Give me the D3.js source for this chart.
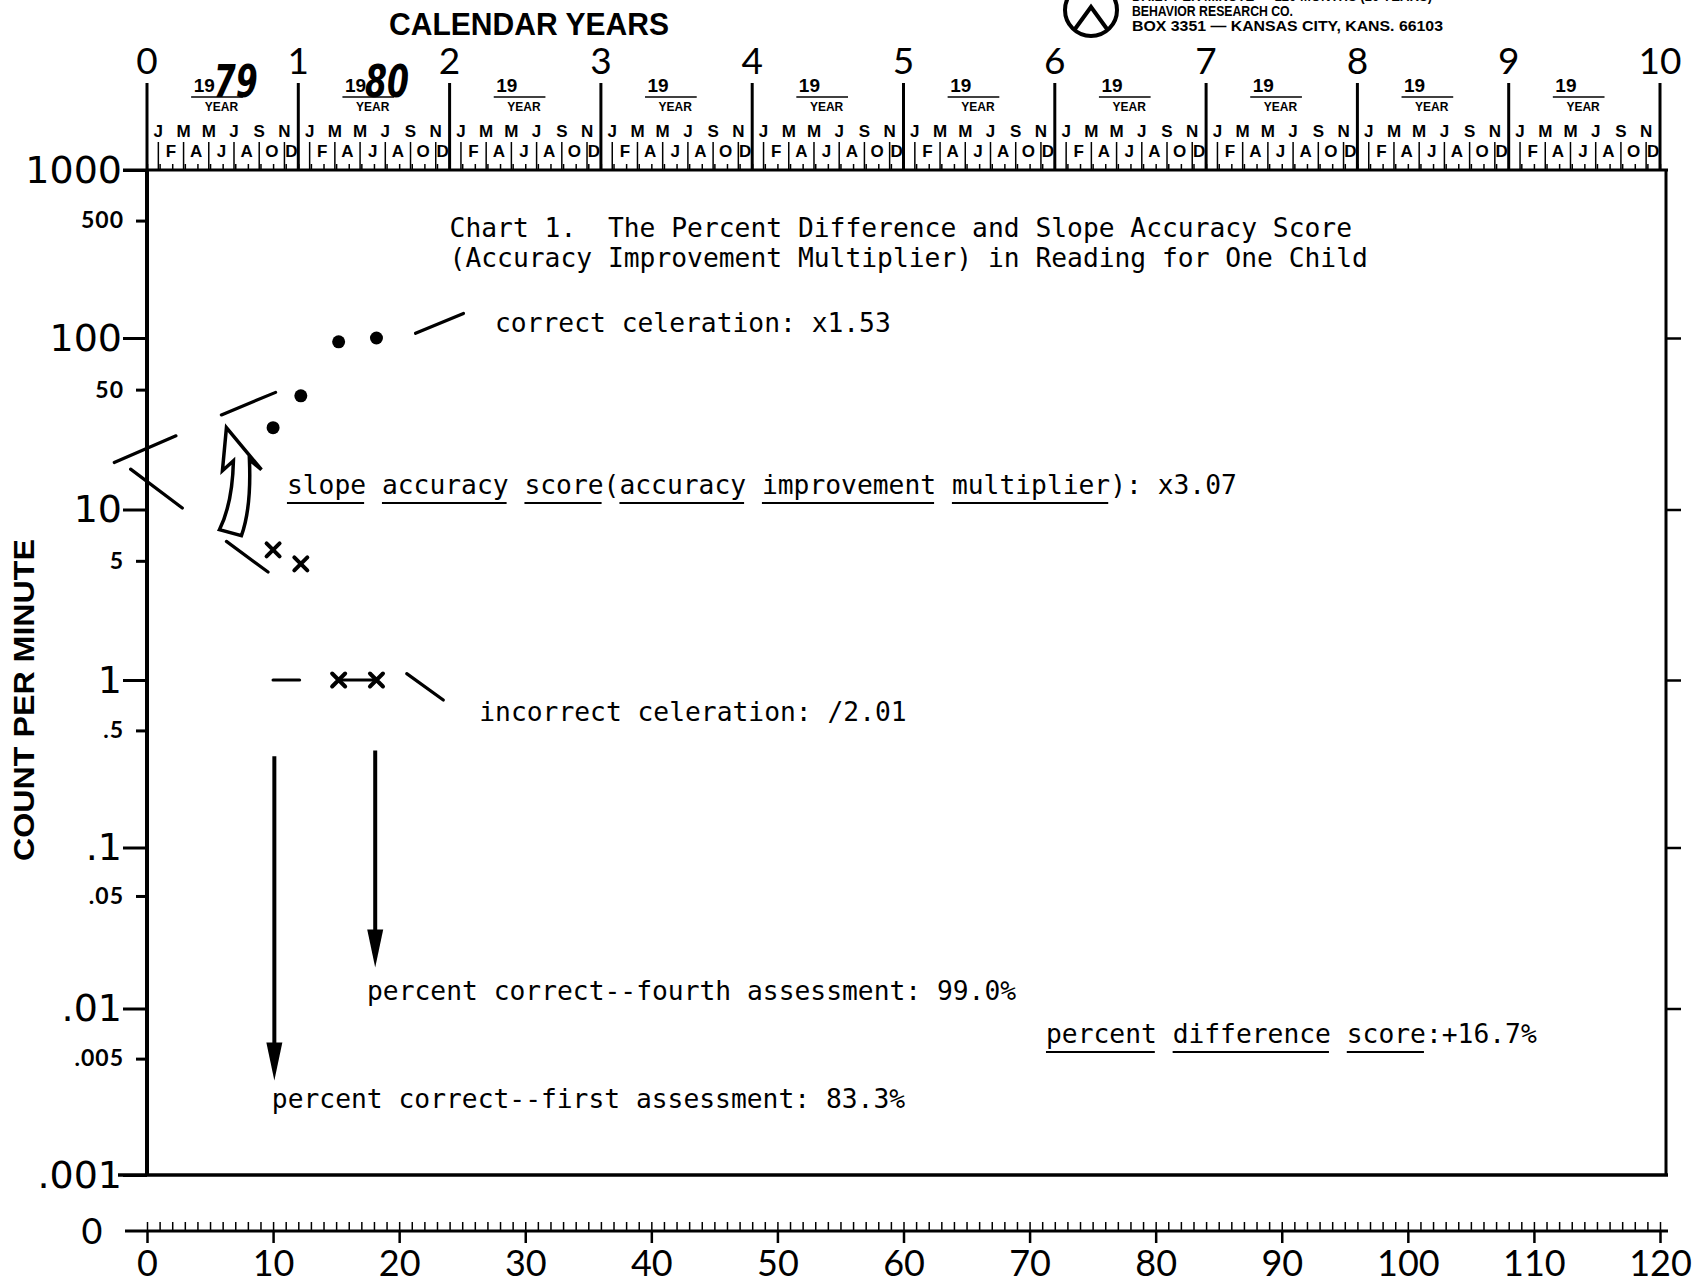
<!DOCTYPE html>
<html>
<head>
<meta charset="utf-8">
<script src="https://cdn.jsdelivr.net/npm/d3@7"></script>
<style>
  body { margin: 0; background: #fff; }
  svg { display: block; }
  .note { white-space: pre; }
</style>
</head>
<body>
<svg id="chart"></svg>
<script>
const WIDTH = 1704;
const HEIGHT = 1284;

// --- data ---
const sessionMonths = [10, 12.2, 15.2, 18.2];
const correctCounts = [30, 46, 95, 100];
const incorrectCounts = [5.8, 4.8, 1, 1];

// celeration lines (month, count) pairs
const correctCelerations = [
    [[5.9, 35.6], [10.2, 48.2]],
    [[21.3, 106.6], [25.1, 140]]
];
const incorrectCelerations = [
    [[6.3, 6.5], [9.6, 4.3]],
    [[10.0, 1], [12.1, 1]],
    [[15.2, 1], [18.1, 1]],
    [[20.6, 1.09], [23.5, 0.76]]
];
// the two celeration lines moved to the axis to show the angle between them
const angleLines = [
    [[-2.6, 18.8], [2.3, 26.9]],
    [[-1.3, 17.2], [2.8, 10.2]]
];
// down arrows from the assessments to the percent notes
const assessmentArrows = [
    [10.1, 0.35, 0.0037],
    [18.1, 0.38, 0.018]
];

const yearLabels = d3.range(0, 11);
const monthLetters = ['J', 'F', 'M', 'A', 'M', 'J', 'J', 'A', 'S', 'O', 'N', 'D'];
const handYears = ['79', '80'];
const countTicks = [1000, 100, 10, 1, 0.1, 0.01, 0.001];
const countLabels = ['1000', '100', '10', '1', '.1', '.01', '.001'];
const halfTicks = [500, 50, 5, 0.5, 0.05, 0.005];
const halfLabels = ['500', '50', '5', '.5', '.05', '.005'];
const monthTicks = d3.range(0, 121, 10);

const notes = [
    { text: 'Chart 1.  The Percent Difference and Slope Accuracy Score', m: 24, c: 400 },
    { text: '(Accuracy Improvement Multiplier) in Reading for One Child', m: 24, c: 400, dy: 30 },
    { text: 'correct celeration: x1.53', m: 27.6, c: 109 },
    { text: 'slope accuracy score(accuracy improvement multiplier): x3.07', m: 11.1, c: 12.3,
      under: ['slope', 'accuracy', 'score', 'accuracy', 'improvement', 'multiplier'] },
    { text: 'incorrect celeration: /2.01', m: 26.35, c: 0.573 },
    { text: 'percent correct--fourth assessment: 99.0%', m: 17.45, c: 0.0113 },
    { text: 'percent difference score:+16.7%', m: 71.3, c: 0.0062,
      under: ['percent', 'difference', 'score'] },
    { text: 'percent correct--first assessment: 83.3%', m: 9.9, c: 0.00252 }
];

const MONO = '"DejaVu Sans Mono", monospace';
const NARROW = '"Liberation Sans Narrow", "Liberation Sans", Arial, sans-serif';
const ROUND = '"DejaVu Sans", sans-serif';
const SMALLROUND = 'Lato, "Noto Sans", sans-serif';

const svg = d3.select('#chart').attr('width', WIDTH).attr('height', HEIGHT);

const x = d3.scaleLinear().domain([0, 120]).range([147, 1660]);
// piecewise log scale so every decade lands on the printed grid line
const y = d3.scaleLog()
    .domain([1000, 100, 10, 1, 0.1, 0.01, 0.001])
    .range([170, 338, 509.5, 680, 847.5, 1008.5, 1175]);

const RIGHT = 1666;

// --- frame ---
svg.append('line')
    .attr('x1', x(0)).attr('x2', x(0)).attr('y1', y(1000)).attr('y2', y(0.001))
    .attr('stroke', '#000').attr('stroke-width', 4);
svg.append('line')
    .attr('x1', RIGHT).attr('x2', RIGHT).attr('y1', y(1000)).attr('y2', y(0.001))
    .attr('stroke', '#000').attr('stroke-width', 3);
svg.append('line')
    .attr('x1', 123).attr('x2', RIGHT + 2).attr('y1', y(1000)).attr('y2', y(1000))
    .attr('stroke', '#000').attr('stroke-width', 3);
svg.append('line')
    .attr('x1', 118).attr('x2', RIGHT + 2).attr('y1', y(0.001)).attr('y2', y(0.001))
    .attr('stroke', '#000').attr('stroke-width', 3.5);

// --- left count axis ---
const yAxis = svg.append('g')
    .attr('transform', `translate(${x(0)},0)`)
    .call(d3.axisLeft(y).tickValues(countTicks)
        .tickFormat((d, i) => countLabels[i]).tickSize(24).tickPadding(1).tickSizeOuter(0));
yAxis.select('.domain').remove();
yAxis.selectAll('line').attr('stroke', '#000').attr('stroke-width', 3);
yAxis.selectAll('text')
    .attr('font-family', ROUND).attr('font-size', 38).attr('fill', '#000');

const halfAxis = svg.append('g')
    .attr('transform', `translate(${x(0)},0)`)
    .call(d3.axisLeft(y).tickValues(halfTicks)
        .tickFormat((d, i) => halfLabels[i]).tickSize(11).tickPadding(12).tickSizeOuter(0));
halfAxis.select('.domain').remove();
halfAxis.selectAll('line').attr('stroke', '#000').attr('stroke-width', 3);
halfAxis.selectAll('text')
    .attr('font-family', SMALLROUND).attr('font-weight', 700).attr('font-size', 23)
    .attr('letter-spacing', 1).attr('fill', '#000');

const rightAxis = svg.append('g')
    .attr('transform', `translate(${RIGHT},0)`)
    .call(d3.axisRight(y).tickValues([100, 10, 1, 0.1, 0.01]).tickFormat('').tickSize(15).tickSizeOuter(0));
rightAxis.select('.domain').remove();
rightAxis.selectAll('line').attr('stroke', '#000').attr('stroke-width', 2.5);

svg.append('text')
    .attr('transform', 'translate(34,700) rotate(-90)')
    .attr('text-anchor', 'middle')
    .attr('font-family', NARROW).attr('font-weight', 700).attr('font-size', 30)
    .attr('textLength', 322).attr('lengthAdjust', 'spacingAndGlyphs')
    .text('COUNT PER MINUTE');

// --- bottom month axis ---
const BOTTOM = 1231;
svg.append('line')
    .attr('x1', 125).attr('x2', RIGHT + 2).attr('y1', BOTTOM).attr('y2', BOTTOM)
    .attr('stroke', '#000').attr('stroke-width', 3);
const dayAxis = svg.append('g')
    .attr('transform', `translate(0,${BOTTOM})`)
    .call(d3.axisBottom(x).tickValues(monthTicks).tickSize(12).tickPadding(7).tickSizeOuter(0));
dayAxis.select('.domain').remove();
dayAxis.selectAll('line').attr('stroke', '#000').attr('stroke-width', 2.5);
dayAxis.selectAll('text')
    .attr('font-family', SMALLROUND).attr('font-size', 36).attr('fill', '#000');
const dayMinor = svg.append('g')
    .attr('transform', `translate(0,${BOTTOM})`)
    .call(d3.axisTop(x).tickValues(d3.range(0, 121)).tickFormat('').tickSize(9).tickSizeOuter(0));
dayMinor.select('.domain').remove();
dayMinor.selectAll('line').attr('stroke', '#000').attr('stroke-width', 1.5);
svg.append('text')
    .attr('x', 92).attr('y', BOTTOM).attr('dy', '0.36em').attr('text-anchor', 'middle')
    .attr('font-family', SMALLROUND).attr('font-size', 36)
    .text('0');

// --- top calendar axis ---
const TOP = y(1000);
const topMinor = svg.append('g')
    .attr('transform', `translate(0,${TOP})`)
    .call(d3.axisTop(x).tickValues(d3.range(0, 121)).tickFormat('').tickSize(6).tickSizeOuter(0));
topMinor.select('.domain').remove();
topMinor.selectAll('line').attr('stroke', '#000').attr('stroke-width', 1.5);

svg.append('text')
    .attr('x', 529).attr('y', 35).attr('text-anchor', 'middle')
    .attr('font-family', NARROW).attr('font-weight', 700).attr('font-size', 32)
    .attr('textLength', 280).attr('lengthAdjust', 'spacingAndGlyphs')
    .text('CALENDAR YEARS');

const years = svg.append('g');
years.selectAll('line.year')
    .data(yearLabels)
    .join('line')
    .attr('class', 'year')
    .attr('x1', (d) => x(d * 12)).attr('x2', (d) => x(d * 12))
    .attr('y1', 83).attr('y2', TOP)
    .attr('stroke', '#000').attr('stroke-width', 3);
years.selectAll('text.year')
    .data(yearLabels)
    .join('text')
    .attr('class', 'year')
    .attr('x', (d) => x(d * 12)).attr('y', 74)
    .attr('text-anchor', 'middle')
    .attr('font-family', SMALLROUND).attr('font-size', 37)
    .text((d) => d);

const yearBlocks = years.selectAll('g.block')
    .data(d3.range(0, 10))
    .join('g')
    .attr('class', 'block');
yearBlocks.append('text')
    .attr('x', (d) => x(d * 12 + 3.7)).attr('y', 92)
    .attr('font-family', NARROW).attr('font-weight', 700).attr('font-size', 19)
    .text('19');
yearBlocks.append('line')
    .attr('x1', (d) => x(d * 12 + 3.5)).attr('x2', (d) => x(d * 12 + 7.6))
    .attr('y1', 97).attr('y2', 97)
    .attr('stroke', '#000').attr('stroke-width', 1.5);
yearBlocks.append('text')
    .attr('x', (d) => x(d * 12 + 5.9)).attr('y', 111).attr('text-anchor', 'middle')
    .attr('font-family', NARROW).attr('font-weight', 700).attr('font-size', 12)
    .text('YEAR');

// handwritten year digits
years.selectAll('text.hand')
    .data(handYears)
    .join('text')
    .attr('class', 'hand')
    .attr('x', (d, i) => x(i * 12 + 5.3)).attr('y', 97)
    .attr('font-family', '"DejaVu Sans", sans-serif').attr('font-weight', 700)
    .attr('font-style', 'italic').attr('font-size', 44)
    .attr('textLength', 44).attr('lengthAdjust', 'spacingAndGlyphs')
    .text((d) => d);

// month letters: odd months on row one over the bars, even months between bars
const monthCells = [];
d3.range(0, 10).forEach((yr) => {
    monthLetters.forEach((letter, m) => {
        const pos = m === 11 ? 11.45 : m + 0.9;
        monthCells.push({ yr, m, letter, pos: yr * 12 + pos });
    });
});
svg.append('g').selectAll('text')
    .data(monthCells)
    .join('text')
    .attr('x', (d) => x(d.pos))
    .attr('y', (d) => (d.m % 2 === 0 ? 137 : 157))
    .attr('text-anchor', 'middle')
    .attr('font-family', NARROW).attr('font-weight', 700).attr('font-size', 17)
    .text((d) => d.letter);
svg.append('g').selectAll('line')
    .data(monthCells.filter((d) => d.m % 2 === 0))
    .join('line')
    .attr('x1', (d) => x(d.pos)).attr('x2', (d) => x(d.pos))
    .attr('y1', 142).attr('y2', TOP)
    .attr('stroke', '#000').attr('stroke-width', 1.5);

// publisher block
const logo = svg.append('g').attr('transform', 'translate(1091,10)');
logo.append('circle').attr('r', 26).attr('fill', 'none').attr('stroke', '#000').attr('stroke-width', 4);
logo.append('path')
    .attr('d', 'M-16,19 L0,-3 L16,19')
    .attr('fill', 'none').attr('stroke', '#000').attr('stroke-width', 4);
const pubLines = [
    { text: 'DAILY PER MINUTE — 120 MONTHS (10 YEARS)', yy: 1, len: 300 },
    { text: 'BEHAVIOR RESEARCH CO.', yy: 16, len: 161 },
    { text: 'BOX 3351 — KANSAS CITY, KANS. 66103', yy: 31, len: 311 }
];
svg.append('g').selectAll('text')
    .data(pubLines)
    .join('text')
    .attr('x', 1132).attr('y', (d) => d.yy)
    .attr('font-family', NARROW).attr('font-weight', 700).attr('font-size', 15)
    .attr('textLength', (d) => d.len).attr('lengthAdjust', 'spacingAndGlyphs')
    .text((d) => d.text);

// --- celeration and annotation lines ---
const line = d3.line().x((d) => x(d[0])).y((d) => y(d[1]));
svg.append('g').selectAll('path')
    .data([...correctCelerations, ...incorrectCelerations, ...angleLines])
    .join('path')
    .attr('d', line)
    .attr('fill', 'none').attr('stroke', '#000').attr('stroke-width', 3.2)
    .attr('stroke-linecap', 'round');

// hollow curved arrow: tip sits at the correct level, tail at the incorrect level
const tipX = x(6.3);
const tipY = y(30);
svg.append('path')
    .attr('transform', `translate(${tipX},${tipY})`)
    .attr('d', 'M0,0 L35,42 L23,32 Q25,80 15,108 L-7,102 Q6,76 7,33 L-4,43 Z')
    .attr('fill', '#fff').attr('stroke', '#000').attr('stroke-width', 3.5)
    .attr('stroke-linejoin', 'miter');

// down arrows
const arrows = svg.append('g').selectAll('g')
    .data(assessmentArrows)
    .join('g');
arrows.append('line')
    .attr('x1', (d) => x(d[0])).attr('x2', (d) => x(d[0]))
    .attr('y1', (d) => y(d[1])).attr('y2', (d) => y(d[2]) - 30)
    .attr('stroke', '#000').attr('stroke-width', 4);
arrows.append('path')
    .attr('d', (d) => {
        const ax = x(d[0]);
        const ay = y(d[2]);
        return `M${ax - 8},${ay - 38} L${ax + 8},${ay - 38} L${ax},${ay} Z`;
    })
    .attr('fill', '#000');

// --- data marks ---
svg.append('g').selectAll('circle')
    .data(sessionMonths)
    .join('circle')
    .attr('cx', (d) => x(d))
    .attr('cy', (d, i) => y(correctCounts[i]))
    .attr('r', 6.5)
    .attr('fill', '#000');

const X_HALF = 6.5;
svg.append('g').selectAll('path')
    .data(sessionMonths)
    .join('path')
    .attr('d', (d, i) => {
        const cx = x(d);
        const cy = y(incorrectCounts[i]);
        return `M${cx - X_HALF},${cy - X_HALF}L${cx + X_HALF},${cy + X_HALF}` +
            `M${cx + X_HALF},${cy - X_HALF}L${cx - X_HALF},${cy + X_HALF}`;
    })
    .attr('stroke', '#000').attr('stroke-width', 4).attr('stroke-linecap', 'round');

// --- typed notes ---
const noteGroup = svg.append('g');
notes.forEach((n) => {
    const tx = x(n.m);
    const ty = y(n.c) + (n.dy || 0);
    const t = noteGroup.append('text')
        .attr('class', 'note')
        .attr('x', tx).attr('y', ty)
        .attr('font-family', MONO).attr('font-size', 26.3)
        .attr('fill', '#000')
        .text(n.text);
    if (!n.under) return;
    const cw = t.node().getComputedTextLength() / n.text.length;
    let from = 0;
    n.under.forEach((word) => {
        const idx = n.text.indexOf(word, from);
        from = idx + word.length;
        noteGroup.append('line')
            .attr('x1', tx + idx * cw).attr('x2', tx + (idx + word.length) * cw - 2)
            .attr('y1', ty + 9).attr('y2', ty + 9)
            .attr('stroke', '#000').attr('stroke-width', 2);
    });
});
</script>
</body>
</html>
